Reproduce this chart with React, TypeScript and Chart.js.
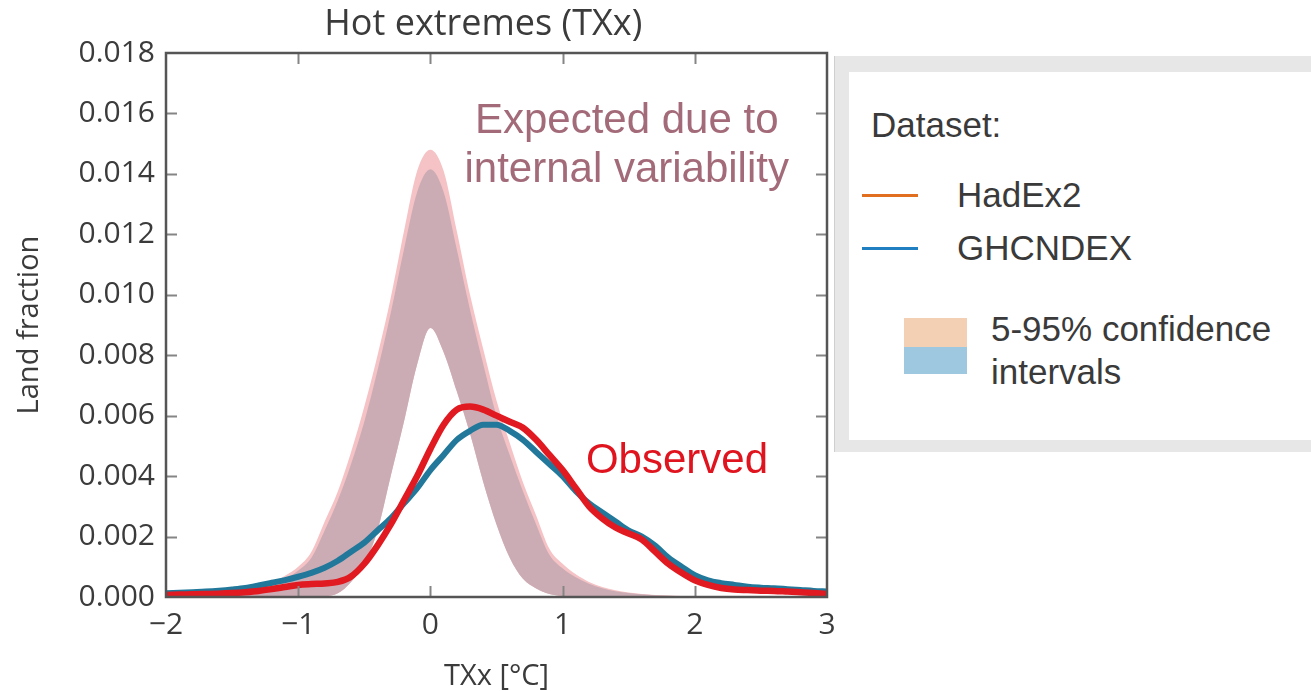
import React, { useEffect, useRef } from 'react';
import { Chart, registerables } from 'chart.js';

Chart.register(...registerables);

// x grid of the density estimates (°C)
const X_GRID = [
  -2.0, -1.9, -1.8, -1.7, -1.6, -1.5, -1.4, -1.3, -1.2, -1.1,
  -1.0, -0.9, -0.8, -0.7, -0.6, -0.5, -0.4, -0.3, -0.2, -0.1,
  0.0, 0.1, 0.2, 0.3, 0.4, 0.5, 0.6, 0.7, 0.8, 0.9,
  1.0, 1.1, 1.2, 1.3, 1.4, 1.5, 1.6, 1.7, 1.8, 1.9,
  2.0, 2.1, 2.2, 2.3, 2.4, 2.5, 2.6, 2.7, 2.8, 2.9, 3.0,
];

// Expected due to internal variability: lower bound of the band
const BAND_LOWER = [
  0, 0, 0, 0, 0, 0, 0, 0, 0, 0,
  0, 0, 0.00002, 0.00012, 0.0005, 0.0011, 0.0022, 0.004, 0.0058, 0.0077,
  0.0089, 0.0081, 0.0068, 0.0054, 0.0038, 0.0024, 0.0013, 0.0006, 0.00028, 0.0001,
  0.00003, 0, 0, 0, 0, 0, 0, 0, 0, 0,
  0, 0, 0, 0, 0, 0, 0, 0, 0, 0, 0,
];

// upper bound, outer (pink) envelope
const BAND_OUTER_UPPER = [
  0.00001, 0.00001, 0.00002, 0.00004, 0.00007, 0.00012, 0.0002, 0.0003, 0.00046, 0.0007,
  0.001, 0.0015, 0.0025, 0.0035, 0.0048, 0.0063, 0.008, 0.0099, 0.0121, 0.0141,
  0.0148, 0.0141, 0.0121, 0.01, 0.0082, 0.0065, 0.0051, 0.0038, 0.0027, 0.0016,
  0.0011, 0.00075, 0.0005, 0.00033, 0.00022, 0.00015, 0.0001, 0.00007, 0.00005, 0.00003,
  0.00002, 0.00001, 0.00001, 0.00001, 0, 0, 0, 0, 0, 0, 0,
];

// upper bound, inner (mauve) envelope
const BAND_UPPER = [
  0.00001, 0.00001, 0.00002, 0.00003, 0.00006, 0.0001, 0.00016, 0.00025, 0.0004, 0.0006,
  0.00088, 0.0013, 0.0022, 0.0032, 0.0044, 0.0058, 0.0075, 0.0094, 0.0115, 0.0134,
  0.01415, 0.0134, 0.0115, 0.0095, 0.0077, 0.006, 0.0047, 0.0035, 0.0024, 0.0014,
  0.00095, 0.00065, 0.00044, 0.00029, 0.00019, 0.00013, 0.00009, 0.00006, 0.00004, 0.00003,
  0.00002, 0.00001, 0.00001, 0, 0, 0, 0, 0, 0, 0, 0,
];

// Observed: GHCNDEX
const OBS_GHCNDEX = [
  0.00012, 0.00014, 0.00016, 0.00018, 0.00021, 0.00025, 0.0003, 0.00038, 0.00047, 0.00056,
  0.00067, 0.0008, 0.00097, 0.0012, 0.0015, 0.0018, 0.0022, 0.0026, 0.0031, 0.0036,
  0.0042, 0.0047, 0.0052, 0.0055, 0.0057, 0.0057, 0.0055, 0.0052, 0.0048, 0.0044,
  0.004, 0.0035, 0.0031, 0.0028, 0.0025, 0.0022, 0.002, 0.0017, 0.0013, 0.001,
  0.00072, 0.00055, 0.00046, 0.0004, 0.00034, 0.00031, 0.00029, 0.00026, 0.00023, 0.0002, 0.00018,
];

// Observed: HadEx2
const OBS_HADEX2 = [
  0.00007, 0.00008, 0.00009, 0.0001, 0.00011, 0.00013, 0.00016, 0.0002, 0.00026, 0.00033,
  0.0004, 0.00043, 0.00045, 0.0005, 0.00068, 0.0011, 0.0017, 0.0024, 0.0032, 0.004,
  0.0049, 0.0057, 0.0062, 0.0063, 0.0062, 0.006, 0.0058, 0.0056, 0.0052, 0.0047,
  0.0042, 0.0036, 0.003, 0.0026, 0.0023, 0.0021, 0.0019, 0.0015, 0.0011, 0.0008,
  0.00055, 0.0004, 0.0003, 0.00025, 0.00023, 0.00021, 0.0002, 0.00018, 0.00016, 0.00013, 0.0001,
];

const X_MIN = -2;
const X_MAX = 3;
const Y_MIN = 0;
const Y_MAX = 0.018;
const Y_STEP = 0.002;

const TITLE = 'Hot extremes (TXx)';
const X_TITLE = 'TXx [°C]';
const Y_TITLE = 'Land fraction';
const LEGEND_TITLE = 'Dataset:';
const LEGEND_LABELS = ['HadEx2', 'GHCNDEX'];
const LEGEND_BAND_LABEL = ['5-95% confidence', 'intervals'];

const TEXT = '#3b3b3b';
const TICK_FONT = '"Open Sans", "DejaVu Sans", sans-serif';
const SANS = '"Liberation Sans", Arial, sans-serif';

const overlay = {
  id: 'overlay',
  afterDatasetsDraw(chart: any) {
    const { ctx, chartArea: a, scales } = chart;
    const xs = scales.x;
    const ys = scales.y;
    ctx.save();
    // inward tick marks on all four sides
    ctx.strokeStyle = '#858585';
    ctx.lineWidth = 2;
    ctx.beginPath();
    xs.ticks.forEach((t: any) => {
      if (t.value <= X_MIN || t.value >= X_MAX) return;
      const px = Math.round(xs.getPixelForValue(t.value)) + 0.5;
      ctx.moveTo(px, a.bottom);
      ctx.lineTo(px, a.bottom - 11);
      ctx.moveTo(px, a.top);
      ctx.lineTo(px, a.top + 11);
    });
    ys.ticks.forEach((t: any) => {
      if (t.value <= Y_MIN + 1e-9 || t.value >= Y_MAX - 1e-9) return;
      const py = Math.round(ys.getPixelForValue(t.value)) + 0.5;
      ctx.moveTo(a.left, py);
      ctx.lineTo(a.left + 11, py);
      ctx.moveTo(a.right, py);
      ctx.lineTo(a.right - 11, py);
    });
    ctx.stroke();
    // frame
    ctx.strokeStyle = '#555555';
    ctx.lineWidth = 2.5;
    ctx.strokeRect(a.left, a.top, a.right - a.left, a.bottom - a.top);

    // annotations
    ctx.textAlign = 'center';
    ctx.textBaseline = 'middle';
    ctx.font = `42px ${SANS}`;
    ctx.fillStyle = '#a36b79';
    ctx.fillText('Expected due to', xs.getPixelForValue(1.485), ys.getPixelForValue(0.01572));
    ctx.fillText('internal variability', xs.getPixelForValue(1.485), ys.getPixelForValue(0.01413));
    ctx.fillStyle = '#e0141e';
    ctx.fillText('Observed', xs.getPixelForValue(1.865), ys.getPixelForValue(0.00448));

    // title
    ctx.fillStyle = TEXT;
    ctx.font = `36px ${TICK_FONT}`;
    ctx.fillText(TITLE, xs.getPixelForValue(0.4), 25);
    ctx.restore();
  },
};

export default function App() {
  const ref = useRef<HTMLCanvasElement>(null);

  useEffect(() => {
    if (!ref.current) return;
    const pts = (vals: number[]) => X_GRID.map((x, i) => ({ x, y: vals[i] }));
    const common = {
      pointRadius: 0,
      cubicInterpolationMode: 'monotone' as const,
    };
    const chart = new Chart(ref.current, {
      type: 'line',
      data: {
        datasets: [
          {
            label: 'band lower',
            data: pts(BAND_LOWER),
            borderColor: 'rgba(0,0,0,0)',
            borderWidth: 0,
            fill: false,
            order: 4,
            ...common,
          },
          {
            label: 'band outer',
            data: pts(BAND_OUTER_UPPER),
            borderColor: 'rgba(0,0,0,0)',
            borderWidth: 0,
            backgroundColor: '#f5c3c5',
            fill: { target: 0 },
            order: 3,
            ...common,
          },
          {
            label: 'band',
            data: pts(BAND_UPPER),
            borderColor: 'rgba(0,0,0,0)',
            borderWidth: 0,
            backgroundColor: '#cbacb5',
            fill: { target: 0 },
            order: 2,
            ...common,
          },
          {
            label: 'GHCNDEX',
            data: pts(OBS_GHCNDEX),
            borderColor: '#21789a',
            borderWidth: 6,
            fill: false,
            order: 1,
            ...common,
          },
          {
            label: 'HadEx2',
            data: pts(OBS_HADEX2),
            borderColor: '#e01a20',
            borderWidth: 6.5,
            fill: false,
            order: 0,
            ...common,
          },
        ],
      },
      options: {
        animation: false,
        responsive: true,
        maintainAspectRatio: false,
        layout: { padding: { left: 0, top: 53, right: 11, bottom: 0 } },
        plugins: {
          legend: { display: false },
          tooltip: { enabled: false },
          title: { display: false },
        },
        scales: {
          x: {
            type: 'linear',
            min: X_MIN,
            max: X_MAX,
            grid: { display: false, drawTicks: false },
            border: { display: false },
            ticks: {
              stepSize: 1,
              padding: 10,
              color: TEXT,
              maxRotation: 0,
              autoSkip: false,
              font: { family: TICK_FONT, size: 30 },
              callback: (v: any) => (Number(v) < 0 ? '\u2212' + Math.abs(Number(v)) : String(v)),
            },
            title: {
              display: true,
              text: X_TITLE,
              color: TEXT,
              font: { family: TICK_FONT, size: 29 },
              padding: { top: 0, bottom: -3 },
            },
            afterFit: (s: any) => {
              s.height = 94;
              s.paddingLeft = 0;
              s.paddingRight = 0;
            },
          },
          y: {
            type: 'linear',
            min: Y_MIN,
            max: Y_MAX,
            grid: { display: false, drawTicks: false },
            border: { display: false },
            ticks: {
              stepSize: Y_STEP,
              padding: 11,
              color: TEXT,
              font: { family: TICK_FONT, size: 30 },
              callback: (v: any) => Number(v).toFixed(3),
            },
            title: {
              display: true,
              text: Y_TITLE,
              color: TEXT,
              font: { family: TICK_FONT, size: 29 },
              padding: { top: 12, bottom: 0 },
            },
            afterFit: (s: any) => {
              s.width = 166;
              s.paddingTop = 0;
              s.paddingBottom = 0;
            },
          },
        },
      },
      plugins: [overlay],
    });
    return () => chart.destroy();
  }, []);

  const legendText: React.CSSProperties = {
    position: 'absolute',
    fontFamily: SANS,
    fontSize: 35,
    lineHeight: '35px',
    color: '#3a3a3a',
    whiteSpace: 'nowrap',
  };

  return (
    <div
      style={{
        position: 'absolute',
        left: 0,
        top: 0,
        width: 1311,
        height: 691,
        overflow: 'hidden',
        background: '#ffffff',
      }}
    >
      <div style={{ position: 'absolute', left: 0, top: 0, width: 838, height: 691 }}>
        <canvas ref={ref} />
      </div>
      {/* legend box */}
      <div
        style={{
          position: 'absolute',
          left: 834,
          top: 56,
          width: 500,
          height: 396,
          background: '#e7e7e7',
          borderLeft: '1px solid #cfcfcf',
        }}
      >
        <div
          style={{
            position: 'absolute',
            left: 14,
            top: 16,
            width: 500,
            height: 368,
            background: '#ffffff',
          }}
        />
      </div>
      <div style={{ ...legendText, left: 871, top: 107 }}>{LEGEND_TITLE}</div>
      <div style={{ position: 'absolute', left: 862, top: 194, width: 56, height: 3, background: '#e0701f' }} />
      <div style={{ ...legendText, left: 957, top: 177 }}>{LEGEND_LABELS[0]}</div>
      <div style={{ position: 'absolute', left: 862, top: 247, width: 56, height: 3, background: '#1f7fc0' }} />
      <div style={{ ...legendText, left: 957, top: 230 }}>{LEGEND_LABELS[1]}</div>
      <div style={{ position: 'absolute', left: 904, top: 318, width: 63, height: 29, background: '#f3cfb3' }} />
      <div style={{ position: 'absolute', left: 904, top: 347, width: 63, height: 27, background: '#9ec8e0' }} />
      <div style={{ ...legendText, left: 991, top: 311 }}>{LEGEND_BAND_LABEL[0]}</div>
      <div style={{ ...legendText, left: 991, top: 354 }}>{LEGEND_BAND_LABEL[1]}</div>
    </div>
  );
}
